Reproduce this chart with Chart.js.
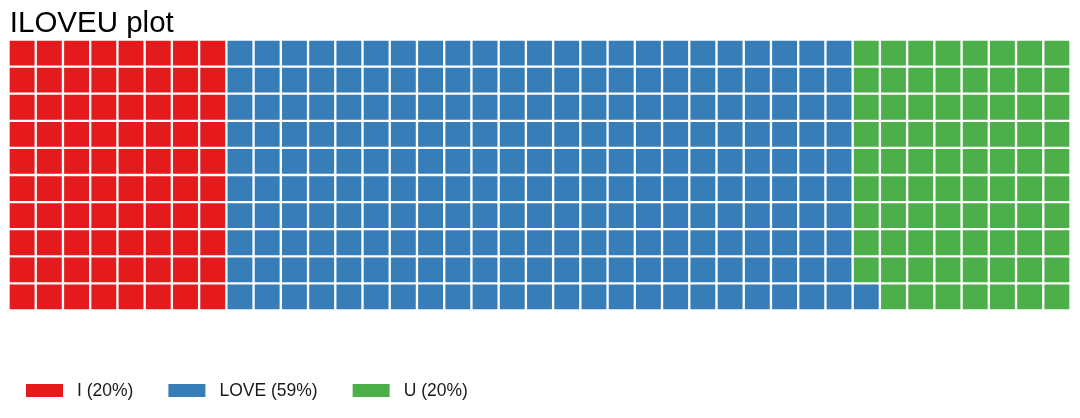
<!DOCTYPE html>
<html>
<head>
<meta charset="utf-8">
<script src="https://cdn.jsdelivr.net/npm/chart.js@4/dist/chart.umd.min.js"></script>
<style>
html,body{margin:0;padding:0;background:#fff;}
#wrap{width:1080px;height:418px;position:relative;}
</style>
</head>
<body>
<div id="wrap"><canvas id="c" width="1080" height="418"></canvas></div>
<script>
// Data
const categories = ['I', 'LOVE', 'U'];
const counts = [80, 231, 79];
const legendLabels = ['I (20%)', 'LOVE (59%)', 'U (20%)'];
const colors = ['#E41A1C', '#377EB8', '#4DAF4A'];
const nRows = 10;
const nCols = 39;
const titleText = 'ILOVEU plot';

// Build cell colours: filled column by column, bottom to top
const cellCat = [];
counts.forEach((n, i) => { for (let k = 0; k < n; k++) cellCat.push(i); });
const colLabels = Array.from({length: nCols}, (_, i) => String(i + 1));
const datasets = [];
for (let r = 0; r < nRows; r++) {   // r = 0 is the bottom row
  const bg = [];
  for (let c = 0; c < nCols; c++) {
    const idx = c * nRows + r;
    bg.push(colors[cellCat[idx]]);
  }
  datasets.push({
    label: 'row' + (r + 1),
    data: colLabels.map(() => 1),
    backgroundColor: bg,
    borderColor: '#ffffff',
    borderWidth: 1.5,
    borderSkipped: false,
    barPercentage: 1,
    categoryPercentage: 1
  });
}

const titleLegendPlugin = {
  id: 'waffleTitleLegend',
  afterDraw(chart) {
    const ctx = chart.ctx;
    ctx.save();
    // title
    ctx.font = '29.5px "Liberation Sans", Arial, sans-serif';
    ctx.textBaseline = 'alphabetic';
    ctx.textAlign = 'left';
    ctx.fillStyle = '#000000';
    ctx.fillText(titleText, 9.8, 32.4);
    // legend
    ctx.font = '17.5px "Liberation Sans", Arial, sans-serif';
    ctx.textBaseline = 'middle';
    let x = 26;
    const y = 384;
    categories.forEach((cat, i) => {
      ctx.fillStyle = colors[i];
      ctx.fillRect(x, y, 37, 13);
      const tx = x + 51;
      ctx.fillStyle = '#1a1a1a';
      ctx.fillText(legendLabels[i], tx, y + 7);
      x = tx + ctx.measureText(legendLabels[i]).width + 35;
    });
    ctx.restore();
  }
};

new Chart(document.getElementById('c'), {
  type: 'bar',
  data: { labels: colLabels, datasets: datasets },
  options: {
    responsive: false,
    animation: false,
    layout: { padding: { left: 8.5, right: 9.5, top: 39.5, bottom: 107.5 } },
    scales: {
      x: { stacked: true, display: false, grid: { display: false } },
      y: { stacked: true, display: false, min: 0, max: nRows, grid: { display: false } }
    },
    plugins: {
      legend: { display: false },
      tooltip: { enabled: false },
      title: { display: false }
    }
  },
  plugins: [titleLegendPlugin]
});
</script>
</body>
</html>
